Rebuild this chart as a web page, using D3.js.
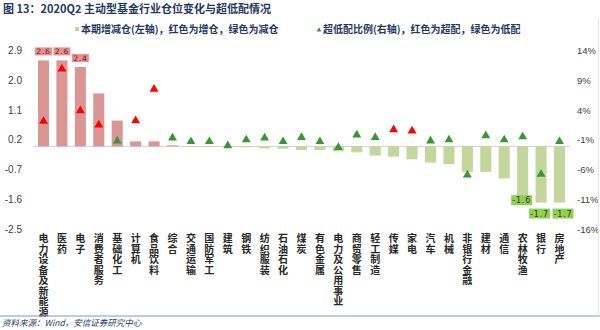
<!DOCTYPE html>
<html>
<head>
<meta charset="utf-8">
<script src="https://cdn.jsdelivr.net/npm/d3@7/dist/d3.min.js"></script>
<style>
  html, body { margin: 0; padding: 0; background: #fff; }
  svg { display: block; font-family: "Noto Sans CJK SC", "Noto Sans", sans-serif; }
</style>
</head>
<body>
<svg id="chart" width="600" height="330"></svg>
<script>
// Industries, ordered by position change
const categories = ["电力设备及新能源", "医药", "电子", "消费者服务", "基础化工", "计算机", "食品饮料", "综合", "交通运输", "国防军工",
  "建筑", "钢铁", "纺织服装", "石油石化", "煤炭", "有色金属", "电力及公用事业", "商贸零售", "轻工制造", "传媒",
  "家电", "汽车", "机械", "非银行金融", "建材", "通信", "农林牧渔", "银行", "房地产"];

// Position change this quarter (left axis, pct points)
const positionChange = [2.6, 2.6, 2.4, 1.6, 0.78, 0.15, 0.15, 0.03, -0.01, -0.01,
  -0.02, -0.03, -0.06, -0.07, -0.11, -0.11, -0.15, -0.18, -0.28, -0.31,
  -0.39, -0.49, -0.54, -0.77, -0.77, -0.97, -1.6, -1.7, -1.7];

// Over/under-weight ratio (right axis, %)
const weightRatio = [2.1, 10.9, 3.9, 1.5, -1.2, 2.2, 7.5, -0.7, -1.3, -1.3,
  -2.0, -1.0, -0.7, -1.3, -0.6, -1.3, -2.3, -0.2, -0.6, 0.7,
  0.5, -1.2, -1.0, -6.9, -0.3, -1.0, -0.5, -6.8, -1.3];

// Axis tick values
const leftTicks = [2.9, 2.0, 1.1, 0.2, -0.7, -1.6, -2.5];
const rightTicks = [14, 9, 4, -1, -6, -11, -16];

// Bars that carry a value label
const labelledBars = ["电力设备及新能源", "医药", "电子", "农林牧渔", "银行", "房地产"];

const svg = d3.select("#chart");

const yLeft = d3.scaleLinear().domain([-2.5, 2.9]).range([229, 50.5]);
const yRight = d3.scaleLinear().domain([-16, 14]).range([229, 50.5]);
const x = d3.scalePoint().domain(categories).range([43.5, 559.5]);
const step = x.step();
const barW = step * 0.6;

const C = {
  barUp: "#d99694", barDown: "#c3d69b",
  triUp: "#ff0000", triDown: "#3a9438",
  boxUp: "#f4898c", boxDown: "#92d050",
  navy: "#1f3864", tick: "#404040"
};

// Title
svg.append("text").attr("x", 3).attr("y", 13)
  .attr("font-size", 11).attr("font-weight", "bold").attr("fill", C.navy)
  .text("图 13：2020Q2 主动型基金行业仓位变化与超低配情况");

// Legend
const lg = svg.append("g").attr("font-size", 10).attr("font-weight", "bold").attr("fill", C.navy);
lg.append("rect").attr("x", 75).attr("y", 27).attr("width", 4).attr("height", 4).attr("fill", C.barDown);
lg.append("text").attr("x", 81).attr("y", 33).text("本期增减仓(左轴)，红色为增仓，绿色为减仓");
lg.append("path").attr("d", d3.symbol(d3.symbolTriangle, 10)())
  .attr("transform", "translate(319,30)").attr("fill", C.triDown);
lg.append("text").attr("x", 323).attr("y", 33).text("超低配比例(右轴)，红色为超配，绿色为低配");

// Zero baseline
svg.append("line").attr("x1", 33).attr("x2", 570)
  .attr("y1", yLeft(0)).attr("y2", yLeft(0))
  .attr("stroke", "#d0d0d0").attr("stroke-width", 1);

// Left axis
const leftAxis = d3.axisLeft(yLeft).tickValues(leftTicks).tickSize(0).tickPadding(0)
  .tickFormat(d3.format(".1f"));
const gl = svg.append("g").attr("transform", "translate(22,0)").call(leftAxis);
gl.select(".domain").remove();
gl.selectAll("text").attr("font-size", 10).attr("fill", C.tick).attr("font-family", "Liberation Sans, Arial, sans-serif")
  .text(d => d3.format(".1f")(d).replace("−", "-"));

// Right axis
const rightAxis = d3.axisRight(yRight).tickValues(rightTicks).tickSize(0).tickPadding(0)
  .tickFormat(d => d + "%");
const gr = svg.append("g").attr("transform", "translate(577,0)").call(rightAxis);
gr.select(".domain").remove();
gr.selectAll("text").attr("font-size", 9.5).attr("fill", C.tick).attr("font-family", "Liberation Sans, Arial, sans-serif");

// Bars
svg.append("g").selectAll("rect").data(categories).join("rect")
  .attr("x", d => x(d) - barW / 2)
  .attr("width", barW)
  .attr("y", (d, i) => Math.min(yLeft(positionChange[i]), yLeft(0)))
  .attr("height", (d, i) => Math.max(0.8, Math.abs(yLeft(positionChange[i]) - yLeft(0))))
  .attr("fill", (d, i) => positionChange[i] >= 0 ? C.barUp : C.barDown);

// Value labels with filled boxes
const labG = svg.append("g");
categories.forEach((c, i) => {
  if (!labelledBars.includes(c)) return;
  const v = positionChange[i];
  const up = v >= 0;
  const txt = d3.format(".1f")(v).replace("−", "-");
  const w = up ? 17 : 21, h = up ? 8 : 10;
  let cx = x(c), cy;
  if (up) cy = yLeft(v) - 9;
  else cy = yLeft(v) + 5;
  if (c === "农林牧渔") { cx -= 1; cy = yLeft(v) + 1; }
  if (c === "银行") { cx -= 1.5; cy = yLeft(v) + 11; }
  if (c === "房地产") { cx += 3.5; cy = yLeft(v) + 11; }
  labG.append("rect").attr("x", cx - w / 2).attr("y", cy - h / 2)
    .attr("width", w).attr("height", h).attr("fill", up ? C.boxUp : C.boxDown);
  labG.append("text").attr("x", cx).attr("y", cy + 3)
    .attr("text-anchor", "middle").attr("font-size", up ? 7.5 : 8)
    .attr("font-family", "DejaVu Sans, sans-serif")
    .attr("fill", "#333").attr("letter-spacing", 0.8).text(txt);
});

// Triangles for over/under-weight ratio
svg.append("g").selectAll("path").data(categories).join("path")
  .attr("d", d3.symbol(d3.symbolTriangle, 34)())
  .attr("transform", (d, i) => `translate(${x(d)},${yRight(weightRatio[i])})`)
  .attr("fill", (d, i) => weightRatio[i] >= 0 ? C.triUp : C.triDown);

// Vertical category labels, one character per line
const xl = svg.append("g").attr("font-size", 10).attr("fill", "#262626").attr("font-weight", "bold");
categories.forEach(c => {
  const t = xl.append("text").attr("text-anchor", "middle");
  Array.from(c).forEach((ch, k) => {
    t.append("tspan").attr("x", x(c)).attr("y", 242 + k * 10.5).text(ch);
  });
});

// Bottom rule and source
svg.append("line").attr("x1", 0).attr("x2", 600).attr("y1", 316).attr("y2", 316)
  .attr("stroke", "#8496b0").attr("stroke-width", 1);
svg.append("line").attr("x1", 598.5).attr("x2", 598.5).attr("y1", 18).attr("y2", 316)
  .attr("stroke", "#e4e4e4").attr("stroke-width", 1);
svg.append("text").attr("x", 2).attr("y", 326).attr("font-size", 8.5)
  .attr("font-style", "italic").attr("fill", "#1f3864")
  .text("资料来源：Wind，安信证券研究中心");
</script>
</body>
</html>
